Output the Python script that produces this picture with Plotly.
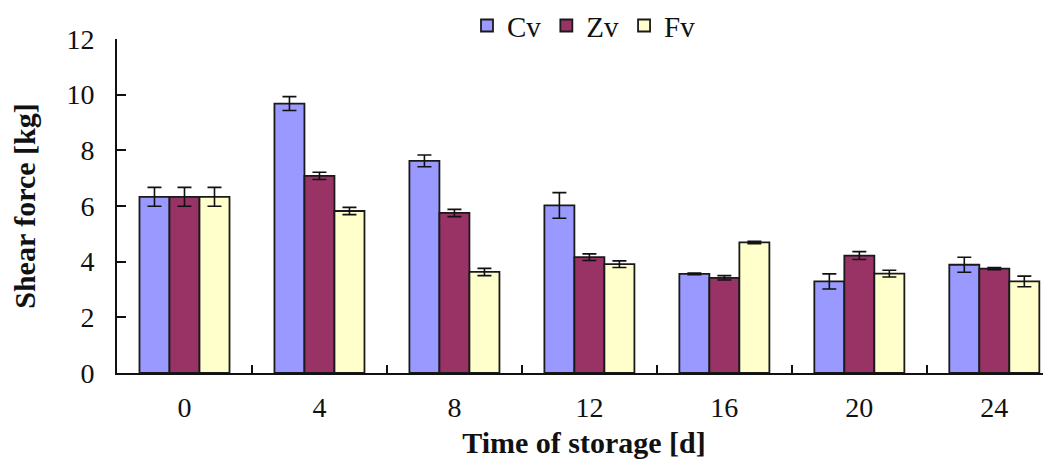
import plotly.graph_objects as go

days = ["0", "4", "8", "12", "16", "20", "24"]
cv = [6.33, 9.68, 7.62, 6.02, 3.56, 3.29, 3.89]
cv_err = [0.34, 0.25, 0.21, 0.46, 0.03, 0.27, 0.27]
zv = [6.33, 7.08, 5.75, 4.16, 3.42, 4.22, 3.75]
zv_err = [0.34, 0.13, 0.13, 0.12, 0.08, 0.14, 0.04]
fv = [6.33, 5.82, 3.63, 3.91, 4.69, 3.57, 3.29]
fv_err = [0.34, 0.13, 0.13, 0.12, 0.04, 0.12, 0.19]

series = [("Cv", cv, cv_err, "#9999FF"), ("Zv", zv, zv_err, "#993366"), ("Fv", fv, fv_err, "#FFFFCC")]

fig = go.Figure()
for name, vals, errs, col in series:
    fig.add_trace(go.Bar(
        x=days, y=vals, name=name,
        marker=dict(color=col, line=dict(color="#1a1a1a", width=1.8)),
        error_y=dict(type="data", array=errs, visible=True, color="#111111", thickness=1.6, width=7),
    ))

serif = "Liberation Serif"
fig.update_layout(
    width=1043, height=451,
    margin=dict(l=109, r=0, t=31, b=86, autoexpand=False),
    paper_bgcolor="white", plot_bgcolor="white",
    barmode="group", bargap=0.333, bargroupgap=0,
    font=dict(family=serif, color="#111111"),
    showlegend=True,
    legend=dict(orientation="h", x=0.5, xanchor="center", y=1.04, yanchor="middle",
                font=dict(family=serif, size=29, color="#111111"),
                itemwidth=30, tracegroupgap=0, bgcolor="rgba(0,0,0,0)"),
    xaxis=dict(type="category", range=[-0.5, 6.42], showline=True, linecolor="#111111", linewidth=1.8,
               ticks="inside", tickson="boundaries", ticklen=8, tickwidth=1.5, tickcolor="#111111",
               showgrid=False, zeroline=False, ticklabelstandoff=8,
               tickfont=dict(family=serif, size=28, color="#111111"),
               title=dict(text="<b>Time of storage [d]</b>", font=dict(family=serif, size=30, color="#111111"), standoff=22)),
    yaxis=dict(range=[0, 12], dtick=2, showline=True, linecolor="#111111", linewidth=1.8,
               ticks="inside", ticklen=9, tickwidth=1.5, tickcolor="#111111",
               showgrid=False, zeroline=False, ticklabelstandoff=15,
               tickfont=dict(family=serif, size=28, color="#111111"),
               title=dict(text="<b>Shear force [kg]</b>", font=dict(family=serif, size=30, color="#111111"), standoff=31)),
)

fig.write_html("out.html")
